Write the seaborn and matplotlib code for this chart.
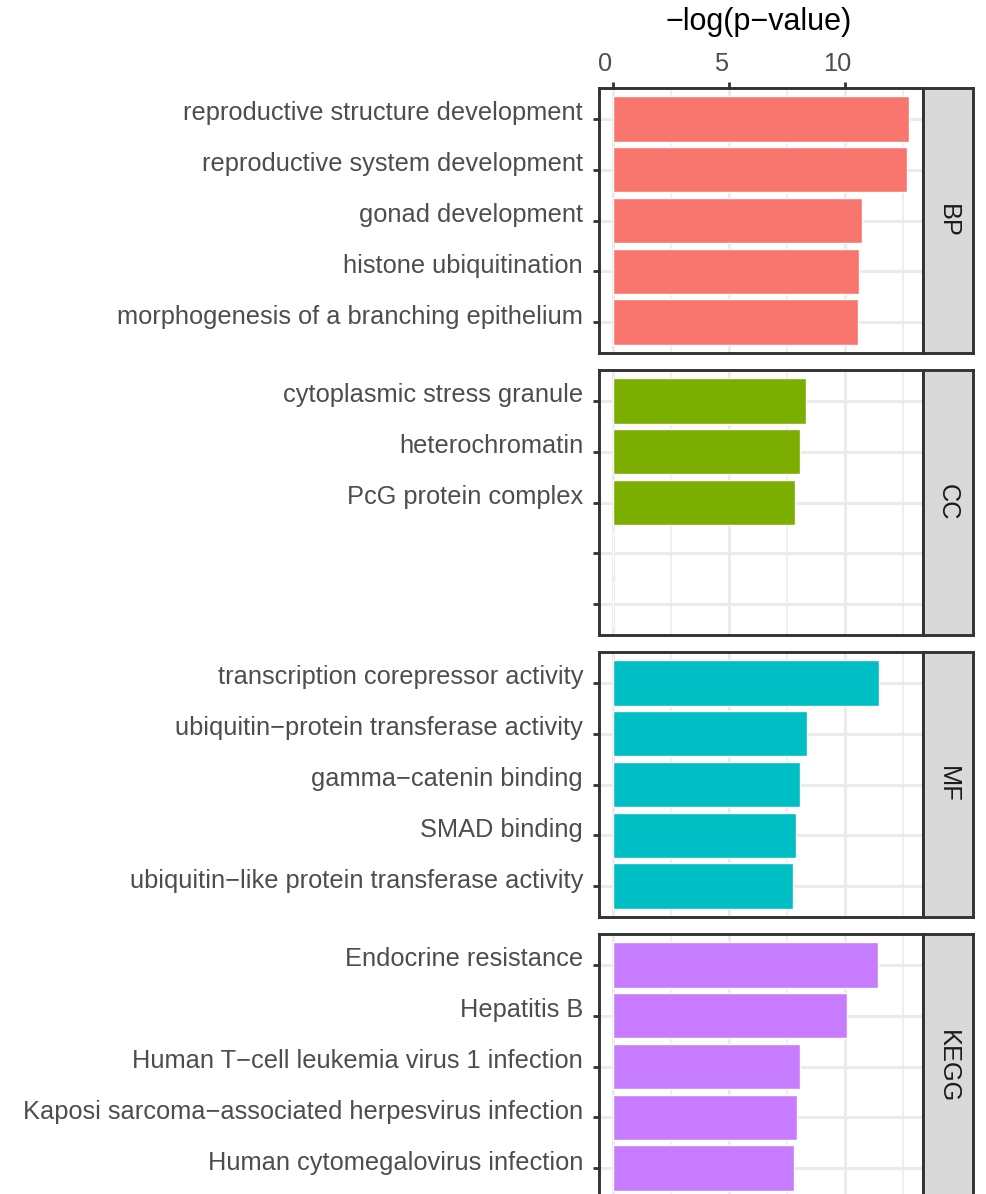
import numpy as np
import pandas as pd
import matplotlib
matplotlib.use("Agg")
import matplotlib.pyplot as plt
import matplotlib.transforms as mtransforms
import seaborn as sns

# Données
bp_terms = ["reproductive structure development", "reproductive system development",
            "gonad development", "histone ubiquitination",
            "morphogenesis of a branching epithelium"]
bp_vals = [12.76, 12.67, 10.73, 10.60, 10.56]

cc_terms = ["cytoplasmic stress granule", "heterochromatin", "PcG protein complex", " ", "  "]
cc_vals = [8.32, 8.06, 7.84, 0.02, 0.02]

mf_terms = ["transcription corepressor activity", "ubiquitin\u2212protein transferase activity",
            "gamma\u2212catenin binding", "SMAD binding",
            "ubiquitin\u2212like protein transferase activity"]
mf_vals = [11.47, 8.36, 8.06, 7.89, 7.76]

kegg_terms = ["Endocrine resistance", "Hepatitis B", "Human T\u2212cell leukemia virus 1 infection",
              "Kaposi sarcoma\u2212associated herpesvirus infection", "Human cytomegalovirus infection"]
kegg_vals = [11.42, 10.09, 8.06, 7.93, 7.79]

facets = ["BP", "CC", "MF", "KEGG"]
colors = ["#F8766D", "#7CAE00", "#00BFC4", "#C77CFF"]
panels = [(bp_terms, bp_vals), (cc_terms, cc_vals), (mf_terms, mf_vals), (kegg_terms, kegg_vals)]

sns.set_theme(style="white")
plt.rcParams["font.family"] = ["Liberation Sans", "DejaVu Sans"]

W, H = 986, 1194
fig = plt.figure(figsize=(W / 100, H / 100), dpi=100)

left, right, strip_w = 599, 923, 50
tops = [88, 370, 652, 934]
ph = 265
dark = "#333333"
grey_txt = "#4D4D4D"
fs = 18.3

# petit décalage du texte comme dans l'original (en pouces, 100 dpi)
up = mtransforms.ScaledTranslation(0, 0.08, fig.dpi_scale_trans)
lft = mtransforms.ScaledTranslation(-0.08, 0, fig.dpi_scale_trans)

for k, ((terms, vals), lab, col) in enumerate(zip(panels, facets, colors)):
    top = tops[k]
    ax = fig.add_axes([left / W, 1 - (top + ph) / H, (right - left) / W, ph / H])
    df = pd.DataFrame({"term": terms, "val": vals})
    sns.barplot(data=df, x="val", y="term", order=terms, color=col, saturation=1,
                width=0.9, orient="h", ax=ax)
    ax.set_axisbelow(True)
    ax.set_facecolor("white")
    ax.set_xlim(-0.6, 13.36)
    ax.set_ylim(len(terms) - 1 + 0.6, -0.6)
    ax.set_xticks([0, 5, 10])
    ax.set_xticks([2.5, 7.5, 12.5], minor=True)
    ax.grid(True, which="major", color="#EBEBEB", linewidth=2.2)
    ax.grid(True, which="minor", axis="x", color="#EBEBEB", linewidth=1.1)
    ax.set_xlabel("")
    ax.set_ylabel("")
    for sp in ax.spines.values():
        sp.set_color(dark)
        sp.set_linewidth(2.1)
    ax.tick_params(axis="y", left=True, length=4.5, width=2, color=dark,
                   labelsize=fs, labelcolor=grey_txt, pad=7)
    for t in ax.get_yticklabels():
        t.set_transform(t.get_transform() + up)
    if k == 0:
        ax.xaxis.tick_top()
        ax.tick_params(axis="x", which="major", top=True, bottom=False, length=4.5, width=2,
                       color=dark, labelsize=fs, labelcolor=grey_txt, pad=4)
        ax.tick_params(axis="x", which="minor", top=False, bottom=False)
        for t in ax.get_xticklabels():
            t.set_transform(t.get_transform() + lft)
    else:
        ax.tick_params(axis="x", which="both", top=False, bottom=False,
                       labeltop=False, labelbottom=False)

    # bandeau de facette (à droite)
    sax = fig.add_axes([right / W, 1 - (top + ph) / H, strip_w / W, ph / H])
    sax.set_facecolor("#D9D9D9")
    sax.set_xticks([])
    sax.set_yticks([])
    for sp in sax.spines.values():
        sp.set_color(dark)
        sp.set_linewidth(2.1)
    sax.text(0.5, 0.5, lab, rotation=-90, ha="center", va="center",
             fontsize=fs, color="#1A1A1A", transform=sax.transAxes)

fig.text(759 / W, 1 - 22 / H, "\u2212log(p\u2212value)",
         ha="center", va="center", fontsize=22, color="black")

fig.savefig("out.png", dpi=100)
